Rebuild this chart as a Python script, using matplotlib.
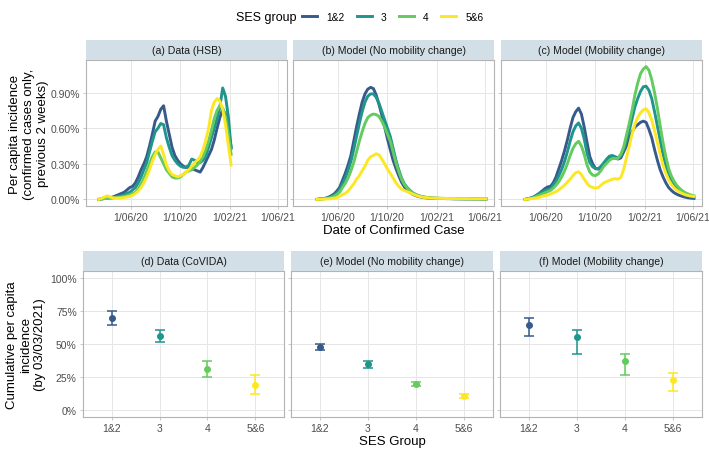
import matplotlib
matplotlib.use('Agg')
import numpy as np
import pandas as pd
import matplotlib.pyplot as plt
from matplotlib.lines import Line2D

plt.rcParams['font.family'] = ['Liberation Sans', 'DejaVu Sans']

groups = ['1&2', '3', '4', '5&6']
colors = [plt.cm.viridis(v) for v in (0.28, 0.52, 0.76, 1.0)]

# weekly dates
data_dates = pd.date_range('2020-03-13', periods=48, freq='7D')
model_dates = pd.date_range('2020-04-10', periods=61, freq='7D')

# (a) Data (HSB), per capita incidence in %
hsb_12 = [0.0, 0.005, 0.01, 0.012, 0.015, 0.02, 0.03, 0.04, 0.05, 0.06,
          0.08, 0.10, 0.11, 0.14, 0.19, 0.25, 0.30, 0.36, 0.45, 0.55,
          0.66, 0.70, 0.76, 0.79, 0.66, 0.55, 0.44, 0.37, 0.33, 0.30,
          0.28, 0.27, 0.27, 0.26, 0.25, 0.24, 0.23, 0.27, 0.32, 0.37,
          0.42, 0.50, 0.60, 0.69, 0.76, 0.72, 0.60, 0.44]
hsb_3 = [0.0, 0.004, 0.008, 0.01, 0.012, 0.015, 0.02, 0.025, 0.03, 0.04,
         0.05, 0.06, 0.08, 0.10, 0.14, 0.19, 0.25, 0.31, 0.40, 0.49,
         0.57, 0.60, 0.64, 0.63, 0.52, 0.44, 0.37, 0.33, 0.30, 0.28,
         0.27, 0.27, 0.29, 0.34, 0.33, 0.31, 0.31, 0.33, 0.36, 0.44,
         0.52, 0.60, 0.68, 0.78, 0.94, 0.87, 0.70, 0.43]
hsb_4 = [0.0, 0.003, 0.006, 0.008, 0.01, 0.012, 0.015, 0.018, 0.02, 0.025,
         0.03, 0.04, 0.05, 0.06, 0.09, 0.13, 0.18, 0.24, 0.30, 0.36,
         0.40, 0.40, 0.35, 0.30, 0.25, 0.22, 0.19, 0.18, 0.18, 0.19,
         0.21, 0.23, 0.24, 0.25, 0.27, 0.29, 0.32, 0.36, 0.42, 0.49,
         0.58, 0.68, 0.75, 0.79, 0.77, 0.70, 0.55, 0.38]
hsb_56 = [0.0, 0.01, 0.02, 0.03, 0.02, 0.012, 0.01, 0.01, 0.012, 0.015,
          0.02, 0.025, 0.035, 0.05, 0.07, 0.10, 0.14, 0.19, 0.25, 0.32,
          0.38, 0.42, 0.45, 0.38, 0.29, 0.24, 0.21, 0.20, 0.19, 0.20,
          0.21, 0.23, 0.25, 0.28, 0.31, 0.33, 0.36, 0.42, 0.50, 0.60,
          0.75, 0.82, 0.85, 0.83, 0.76, 0.63, 0.46, 0.29]

# (b) Model (No mobility change)
nomob_12 = [0.0, 0.003, 0.006, 0.01, 0.018, 0.03, 0.045, 0.07, 0.10, 0.16,
            0.22, 0.29, 0.37, 0.49, 0.61, 0.72, 0.82, 0.89, 0.93, 0.945,
            0.935, 0.88, 0.80, 0.71, 0.61, 0.51, 0.42, 0.33, 0.26, 0.20,
            0.145, 0.105, 0.078, 0.058, 0.043, 0.032, 0.024, 0.019, 0.015, 0.012,
            0.010, 0.009, 0.008, 0.008, 0.007, 0.007, 0.006, 0.006, 0.006, 0.005,
            0.005, 0.005, 0.005, 0.004, 0.004, 0.004, 0.004, 0.004, 0.003, 0.003, 0.003]
nomob_3 = [0.0, 0.003, 0.005, 0.008, 0.014, 0.022, 0.035, 0.055, 0.08, 0.13,
           0.18, 0.245, 0.32, 0.42, 0.53, 0.64, 0.74, 0.82, 0.87, 0.89,
           0.89, 0.86, 0.81, 0.74, 0.67, 0.60, 0.53, 0.43, 0.33, 0.25,
           0.18, 0.13, 0.10, 0.075, 0.055, 0.042, 0.032, 0.025, 0.02, 0.016,
           0.013, 0.011, 0.010, 0.009, 0.008, 0.008, 0.007, 0.007, 0.006, 0.006,
           0.006, 0.005, 0.005, 0.005, 0.005, 0.004, 0.004, 0.004, 0.004, 0.004, 0.004]
nomob_4 = [0.0, 0.002, 0.004, 0.007, 0.01, 0.016, 0.026, 0.04, 0.06, 0.10,
           0.135, 0.18, 0.24, 0.31, 0.40, 0.49, 0.57, 0.64, 0.69, 0.71,
           0.72, 0.715, 0.70, 0.66, 0.61, 0.55, 0.49, 0.40, 0.31, 0.235,
           0.17, 0.125, 0.095, 0.07, 0.052, 0.04, 0.03, 0.023, 0.018, 0.015,
           0.012, 0.011, 0.010, 0.009, 0.008, 0.008, 0.007, 0.007, 0.006, 0.006,
           0.006, 0.005, 0.005, 0.005, 0.005, 0.005, 0.004, 0.004, 0.004, 0.004, 0.004]
nomob_56 = [0.0, 0.001, 0.002, 0.003, 0.004, 0.006, 0.01, 0.015, 0.025, 0.04,
            0.05, 0.07, 0.10, 0.13, 0.17, 0.20, 0.24, 0.28, 0.33, 0.36,
            0.37, 0.385, 0.375, 0.34, 0.30, 0.255, 0.22, 0.18, 0.14, 0.11,
            0.085, 0.075, 0.065, 0.055, 0.045, 0.035, 0.027, 0.021, 0.017, 0.014,
            0.012, 0.011, 0.010, 0.009, 0.009, 0.008, 0.008, 0.007, 0.007, 0.007,
            0.006, 0.006, 0.006, 0.006, 0.005, 0.005, 0.005, 0.005, 0.005, 0.005, 0.005]

# (c) Model (Mobility change)
mob_12 = [0.0, 0.005, 0.012, 0.02, 0.035, 0.05, 0.07, 0.09, 0.105, 0.11,
          0.14, 0.19, 0.26, 0.33, 0.41, 0.50, 0.60, 0.69, 0.74, 0.77,
          0.72, 0.61, 0.48, 0.36, 0.30, 0.26, 0.255, 0.27, 0.30, 0.335,
          0.36, 0.365, 0.35, 0.34, 0.35, 0.40, 0.45, 0.52, 0.57, 0.61,
          0.63, 0.65, 0.66, 0.65, 0.59, 0.52, 0.42, 0.33, 0.25, 0.19,
          0.14, 0.10, 0.075, 0.055, 0.042, 0.032, 0.024, 0.018, 0.013, 0.01, 0.008]
mob_3 = [0.0, 0.004, 0.01, 0.018, 0.03, 0.045, 0.06, 0.075, 0.082, 0.09,
         0.12, 0.155, 0.20, 0.255, 0.32, 0.40, 0.49, 0.57, 0.62, 0.645,
         0.60, 0.51, 0.39, 0.31, 0.275, 0.26, 0.26, 0.28, 0.31, 0.34,
         0.365, 0.37, 0.36, 0.35, 0.37, 0.42, 0.50, 0.58, 0.68, 0.78,
         0.85, 0.91, 0.95, 0.955, 0.92, 0.85, 0.74, 0.62, 0.50, 0.38,
         0.28, 0.20, 0.15, 0.11, 0.085, 0.065, 0.05, 0.04, 0.032, 0.025, 0.02]
mob_4 = [0.0, 0.003, 0.008, 0.015, 0.025, 0.035, 0.045, 0.055, 0.065, 0.075,
         0.095, 0.12, 0.15, 0.19, 0.24, 0.30, 0.37, 0.43, 0.47, 0.49,
         0.45, 0.38, 0.29, 0.23, 0.205, 0.20, 0.215, 0.245, 0.28, 0.305,
         0.33, 0.345, 0.345, 0.345, 0.38, 0.44, 0.54, 0.64, 0.75, 0.88,
         0.98, 1.06, 1.10, 1.12, 1.09, 1.01, 0.90, 0.77, 0.62, 0.48,
         0.36, 0.26, 0.195, 0.15, 0.115, 0.09, 0.07, 0.055, 0.045, 0.036, 0.03]
mob_56 = [0.0, 0.002, 0.005, 0.008, 0.012, 0.017, 0.025, 0.032, 0.036, 0.045,
          0.055, 0.065, 0.08, 0.10, 0.12, 0.145, 0.17, 0.20, 0.225, 0.233,
          0.21, 0.17, 0.135, 0.11, 0.10, 0.095, 0.10, 0.12, 0.14, 0.15,
          0.16, 0.17, 0.175, 0.17, 0.185, 0.25, 0.35, 0.45, 0.55, 0.635,
          0.69, 0.73, 0.755, 0.765, 0.73, 0.67, 0.58, 0.48, 0.38, 0.29,
          0.22, 0.165, 0.125, 0.095, 0.075, 0.06, 0.048, 0.038, 0.032, 0.027, 0.025]

# cumulative per capita incidence by 03/03/2021 (%), point and interval
covida_mid = [69.5, 56.0, 31.0, 19.0]
covida_lo = [64.0, 51.7, 25.2, 12.0]
covida_hi = [75.0, 60.5, 37.0, 26.7]
nomob_cum_mid = [47.5, 34.7, 20.0, 10.5]
nomob_cum_lo = [45.2, 32.2, 18.5, 9.0]
nomob_cum_hi = [49.7, 37.0, 21.7, 12.5]
mob_cum_mid = [64.5, 55.0, 37.5, 23.0]
mob_cum_lo = [56.0, 42.8, 27.0, 14.7]
mob_cum_hi = [69.7, 60.5, 42.5, 28.0]

top_panels = [
    ('(a) Data (HSB)', data_dates, [hsb_12, hsb_3, hsb_4, hsb_56]),
    ('(b) Model (No mobility change)', model_dates, [nomob_12, nomob_3, nomob_4, nomob_56]),
    ('(c) Model (Mobility change)', model_dates, [mob_12, mob_3, mob_4, mob_56]),
]
bottom_panels = [
    ('(d) Data (CoVIDA)', covida_mid, covida_lo, covida_hi),
    ('(e) Model (No mobility change)', nomob_cum_mid, nomob_cum_lo, nomob_cum_hi),
    ('(f) Model (Mobility change)', mob_cum_mid, mob_cum_lo, mob_cum_hi),
]

W, H = 709, 456
fig = plt.figure(figsize=(W / 100, H / 100), dpi=100)


def box(l, t, r, b):
    return [l / W, 1 - b / H, (r - l) / W, (b - t) / H]


border = '#B3B3B3'
gridc = '#E6E6E6'
strip_bg = '#D3DFE6'
tickc = '#4D4D4D'


def style(ax):
    for s in ax.spines.values():
        s.set_color(border)
        s.set_linewidth(0.8)
    ax.grid(True, color=gridc, linewidth=0.7)
    ax.set_axisbelow(True)
    ax.tick_params(length=2.5, width=0.5, color=border, labelsize=7.5,
                   labelcolor=tickc, pad=2)


def strip(l, t, r, b, text):
    sa = fig.add_axes(box(l, t, r, b))
    sa.set_facecolor(strip_bg)
    sa.set_xticks([])
    sa.set_yticks([])
    for s in sa.spines.values():
        s.set_visible(False)
    sa.text(0.5, 0.5, text, ha='center', va='center', fontsize=7.6,
            color='#1A1A1A', transform=sa.transAxes)


date_ticks = pd.to_datetime(['2020-06-01', '2020-10-01', '2021-02-01', '2021-06-01'])
date_labels = ['1/06/20', '1/10/20', '1/02/21', '1/06/21']
top_x = [(86, 287), (293, 494), (501, 702)]

for i, (title, dates, series) in enumerate(top_panels):
    l, r = top_x[i]
    ax = fig.add_axes(box(l, 61, r, 207))
    for vals, c, g in zip(series, colors, groups):
        ax.plot(dates, vals, color=c, lw=2.1, label=g)
    ax.set_xlim(pd.Timestamp('2020-02-10'), pd.Timestamp('2021-06-24'))
    ax.set_ylim(-0.056, 1.176)
    ax.set_xticks(date_ticks)
    ax.set_xticklabels(date_labels)
    ax.set_yticks([0, 0.3, 0.6, 0.9])
    if i == 0:
        ax.set_yticklabels(['0.00%', '0.30%', '0.60%', '0.90%'])
        handles = [Line2D([], [], color=c, lw=2.1) for c in colors]
    else:
        ax.set_yticklabels([])
    style(ax)
    strip(l, 41, r, 61, title)

bot_x = [(83, 284), (291, 493), (500, 702)]
pos = np.arange(1, 5)
for i, (title, mid, lo, hi) in enumerate(bottom_panels):
    l, r = bot_x[i]
    ax = fig.add_axes(box(l, 272, r, 418))
    for k in range(4):
        ax.errorbar(pos[k], mid[k], yerr=[[mid[k] - lo[k]], [hi[k] - mid[k]]],
                    fmt='o', color=colors[k], ms=4, capsize=3.9,
                    elinewidth=1.1, capthick=1.1)
    ax.set_xlim(0.4, 4.6)
    ax.set_ylim(-5, 105)
    ax.set_xticks(pos)
    ax.set_xticklabels(groups)
    ax.set_yticks([0, 25, 50, 75, 100])
    if i == 0:
        ax.set_yticklabels(['0%', '25%', '50%', '75%', '100%'])
    else:
        ax.set_yticklabels([])
    style(ax)
    strip(l, 252, r, 272, title)

fig.text(394 / W, 1 - 231 / H, 'Date of Confirmed Case', ha='center', va='center',
         fontsize=9.5)
fig.text(392 / W, 1 - 442 / H, 'SES Group', ha='center', va='center', fontsize=9.5)
fig.text(29 / W, 1 - 134 / H,
         'Per capita incidence\n(confirmed cases only,\nprevious 2 weeks)',
         rotation=90, ha='center', va='center', fontsize=9.5, linespacing=1.25)
fig.text(26 / W, 1 - 345 / H,
         'Cumulative per capita\nincidence\n(by 03/03/2021)',
         rotation=90, ha='center', va='center', fontsize=9.5, linespacing=1.25)

fig.text(296 / W, 1 - 18 / H, 'SES group', ha='right', va='center', fontsize=9)
fig.legend(handles, groups, loc='center left', bbox_to_anchor=(302 / W, 1 - 18 / H),
           ncol=4, frameon=False, fontsize=7.3, handlelength=1.5,
           handletextpad=0.9, columnspacing=1.2, borderaxespad=0, borderpad=0)

fig.savefig('out.png', dpi=100)
